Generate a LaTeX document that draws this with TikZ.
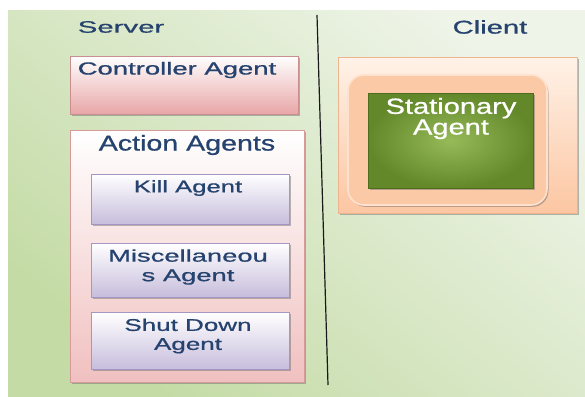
\documentclass[tikz,border=0pt]{standalone}
\usepackage{fontspec}
\usepackage{graphicx}
\setmainfont[FakeBold=0.7]{Liberation Sans}
\usetikzlibrary{shadows}
\definecolor{txtblue}{HTML}{25436E}
\definecolor{bgL}{HTML}{C4DBA5}
\definecolor{bgR}{HTML}{EEF4E8}
\definecolor{pinkB}{HTML}{E8A6A7}
\definecolor{pinkBd}{HTML}{C98F90}
\definecolor{pinkA}{HTML}{F1C0C0}
\definecolor{pinkAd}{HTML}{D69A9A}
\definecolor{lav}{HTML}{C7BDDC}
\definecolor{lavd}{HTML}{A597C3}
\definecolor{peachT}{HTML}{FFF2E8}
\definecolor{peachB}{HTML}{FCC6A2}
\definecolor{peachd}{HTML}{EDB48E}
\definecolor{peachI}{HTML}{FCC9A7}
\definecolor{peachIl}{HTML}{FEE2CE}
\definecolor{grO}{HTML}{62882A}
\definecolor{grI}{HTML}{97BA58}
\definecolor{grd}{HTML}{4E6C1E}
\newcommand\sx[2]{\scalebox{#1}[1]{#2}}
\tikzset{
  shd/.style={drop shadow={shadow xshift=1.5pt, shadow yshift=-1.8pt, opacity=0.45, fill=black!60}},
  lbl/.style={inner sep=0pt, text=txtblue, align=center},
  pinkbox/.style={draw=pinkBd, line width=0.8pt, top color=white, bottom color=pinkB, shd},
  actbox/.style={draw=pinkAd, line width=0.8pt, top color=white, bottom color=pinkA, shd},
  lavbox/.style={draw=lavd, line width=0.8pt, top color=white, bottom color=lav, shd},
  peachbox/.style={draw=peachd, line width=0.8pt, top color=peachT, bottom color=peachB, shd},
  peachround/.style={draw=peachIl, line width=1.6pt, fill=peachI, rounded corners=16pt, shd},
  greenbox/.style={draw=grd, line width=0.8pt, inner color=grI, outer color=grO, shd},
}
\begin{document}
\begin{tikzpicture}[x=1pt,y=-1pt]
\useasboundingbox (0,0) rectangle (585,396);
% background
\shade[shading=axis, top color=bgR, bottom color=bgL, shading angle=-40] (8,11) rectangle (585,396);
% server side
\node[pinkbox, minimum width=228pt, minimum height=58pt] (ctrl) at (184,85) {};
\node[lbl, font=\fontsize{17.5}{20}\selectfont] (ctrlT) at (177,70) {\sx{1.57}{Controller Agent}};
\node[actbox, minimum width=234pt, minimum height=252pt] (act) at (187,256) {};
\node[lbl, font=\fontsize{21.5}{24}\selectfont] (actT) at (187,145) {\sx{1.33}{Action Agents}};
\node[lavbox, minimum width=198pt, minimum height=50pt] (kill) at (190,199) {};
\node[lbl, font=\fontsize{17}{20}\selectfont] (killT) at (188,188) {\sx{1.51}{Kill Agent}};
\node[lavbox, minimum width=198pt, minimum height=54pt] (misc) at (190,270) {};
\node[lbl, font=\fontsize{17}{20}\selectfont] (miscT) at (188,267) {\sx{1.61}{Miscellaneou}\\[-0.5pt]\sx{1.61}{s Agent}};
\node[lavbox, minimum width=198pt, minimum height=57pt] (shut) at (190,341) {};
\node[lbl, font=\fontsize{17}{19}\selectfont] (shutT) at (188,336) {\sx{1.53}{Shut Down}\\\sx{1.53}{Agent}};
\node[lbl, font=\fontsize{16.5}{20}\selectfont] (server) at (121,27) {\sx{1.78}{Server}};
% divider
\coordinate (dtop) at (317,15);
\coordinate (dbot) at (328,385);
\draw[line width=1.2pt, black!90] (dtop) -- (dbot);
% client side
\node[lbl, font=\fontsize{18.5}{20}\selectfont] (client) at (490,27) {\sx{1.58}{Client}};
\node[peachbox, minimum width=239pt, minimum height=156pt] (cout) at (457.5,135) {};
\node[peachround, minimum width=199pt, minimum height=130pt] (cin) at (447.5,140) {};
\node[greenbox, minimum width=165pt, minimum height=95pt] (stat) at (450.5,140.5) {};
\node[lbl, text=white, font=\fontsize{22}{19}\selectfont] (statT) at (451,118.5) {\sx{1.32}{Stationary}\\\sx{1.32}{Agent}};
\end{tikzpicture}
\end{document}
